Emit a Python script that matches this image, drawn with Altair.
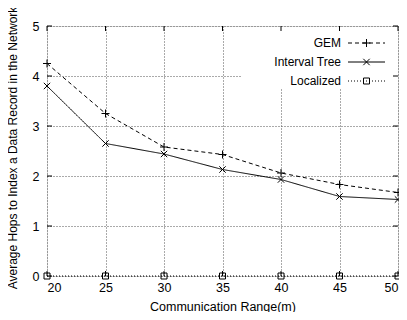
import altair as alt
import pandas as pd

ranges = [20, 25, 30, 35, 40, 45, 50]
gem = [4.25, 3.25, 2.58, 2.43, 2.06, 1.83, 1.67]
interval_tree = [3.80, 2.65, 2.44, 2.13, 1.93, 1.59, 1.53]
localized = [0, 0, 0, 0, 0, 0, 0]
y_ticks = [0, 1, 2, 3, 4, 5]
series_names = ["GEM", "Interval Tree", "Localized"]

W, H = 351, 250
FONT = "Liberation Sans"
FS = 12.5

df = pd.DataFrame({
    "x": ranges * 3,
    "y": gem + interval_tree + localized,
    "s": [series_names[0]] * 7 + [series_names[1]] * 7 + [series_names[2]] * 7,
})

xs = alt.Scale(domain=[20, 50], nice=False, zero=False)
ys = alt.Scale(domain=[0, 5], nice=False)

PLUS = "M-1,0L1,0M0,-1L0,1"
CROSS = "M-0.8,-0.8L0.8,0.8M-0.8,0.8L0.8,-0.8"
SQUARE = "M-0.75,-0.75L0.75,-0.75L0.75,0.75L-0.75,0.75Z"

base = alt.Chart(df)

grid_axis_x = alt.Axis(values=ranges, grid=True, gridDash=[1, 2], gridColor="#555",
                       gridWidth=1, domain=False, ticks=False, labelPadding=5,
                       labelFontSize=FS, labelFont=FONT, labelColor="black",
                       title="Communication Range(m)", titleFont=FONT, titleFontSize=FS,
                       titleFontWeight="normal", titleColor="black",
                       titleY=34, titleBaseline="alphabetic")
grid_axis_y = alt.Axis(values=y_ticks, grid=True, gridDash=[1, 2], gridColor="#555",
                       gridWidth=1, domain=False, ticks=False, labelPadding=8,
                       labelFontSize=FS, labelFont=FONT, labelColor="black",
                       title="Average Hops to Index a Data Record in the Network",
                       titleFont=FONT, titleFontSize=12, titleFontWeight="normal",
                       titleColor="black", titleX=-40, titleY=121.5,
                       titleBaseline="top", titleAngle=270)

def line_layer(name, dash, shape):
    d = base.transform_filter(alt.datum.s == name)
    enc = dict(x=alt.X("x:Q", scale=xs, axis=grid_axis_x),
               y=alt.Y("y:Q", scale=ys, axis=grid_axis_y))
    ln = d.mark_line(color="black", strokeWidth=1, strokeDash=dash, clip=False).encode(**enc)
    pt = d.mark_point(shape=shape, size=64, filled=False, color="black",
                      strokeWidth=1, opacity=1, clip=False).encode(**enc)
    return ln, pt

gem_l, gem_p = line_layer("GEM", [4, 3], PLUS)
it_l, it_p = line_layer("Interval Tree", [1, 0], CROSS)
lo_l, lo_p = line_layer("Localized", [1, 2], SQUARE)

# white legend box hiding grid
box = alt.Chart(pd.DataFrame({"a": [0]})).mark_rect(color="white").encode(
    x=alt.value(194), x2=alt.value(W - 1), y=alt.value(1), y2=alt.value(62))

# inward ticks on all sides
tick_df = pd.DataFrame({"x": ranges})
ytick_df = pd.DataFrame({"y": y_ticks})
tb = alt.Chart(tick_df).mark_rule(color="black", strokeWidth=1)
bottom_ticks = tb.encode(x=alt.X("x:Q", scale=xs), y=alt.value(H), y2=alt.value(H - 5))
top_ticks = tb.encode(x=alt.X("x:Q", scale=xs), y=alt.value(0), y2=alt.value(5))
tl = alt.Chart(ytick_df).mark_rule(color="black", strokeWidth=1)
left_ticks = tl.encode(y=alt.Y("y:Q", scale=ys), x=alt.value(0), x2=alt.value(5))
right_ticks = tl.encode(y=alt.Y("y:Q", scale=ys), x=alt.value(W), x2=alt.value(W - 5))

# legend
leg_rows = [17, 36, 55]
leg_text = []
leg_lines = []
leg_pts = []
for name, yy, dash, shape in zip(series_names, leg_rows, [[4, 3], [1, 0], [1, 2]],
                                 [PLUS, CROSS, SQUARE]):
    one = alt.Chart(pd.DataFrame({"name": [name]}))
    leg_text.append(one.mark_text(align="right", baseline="middle", font=FONT,
                                  fontSize=12, color="black").encode(
        text="name:N", x=alt.value(294), y=alt.value(yy)))
    leg_lines.append(one.mark_rule(color="black", strokeWidth=1, strokeDash=dash).encode(
        x=alt.value(301), x2=alt.value(338), y=alt.value(yy)))
    leg_pts.append(one.mark_point(shape=shape, size=64, filled=False, color="black",
                                  strokeWidth=1, opacity=1).encode(
        x=alt.value(319.5), y=alt.value(yy)))

chart = alt.layer(
    gem_l, it_l, lo_l, box,
    gem_p, it_p, lo_p,
    bottom_ticks, top_ticks, left_ticks, right_ticks,
    *leg_text, *leg_lines, *leg_pts,
).properties(
    width=W, height=H,
    autosize=alt.AutoSizeParams(type="none"),
    padding={"left": 39, "top": 18, "right": 1, "bottom": 36},
).configure_view(
    stroke="black", strokeWidth=1.5
).configure(background="white")

chart.save("out.html", embed_options={"renderer": "svg", "actions": False})
